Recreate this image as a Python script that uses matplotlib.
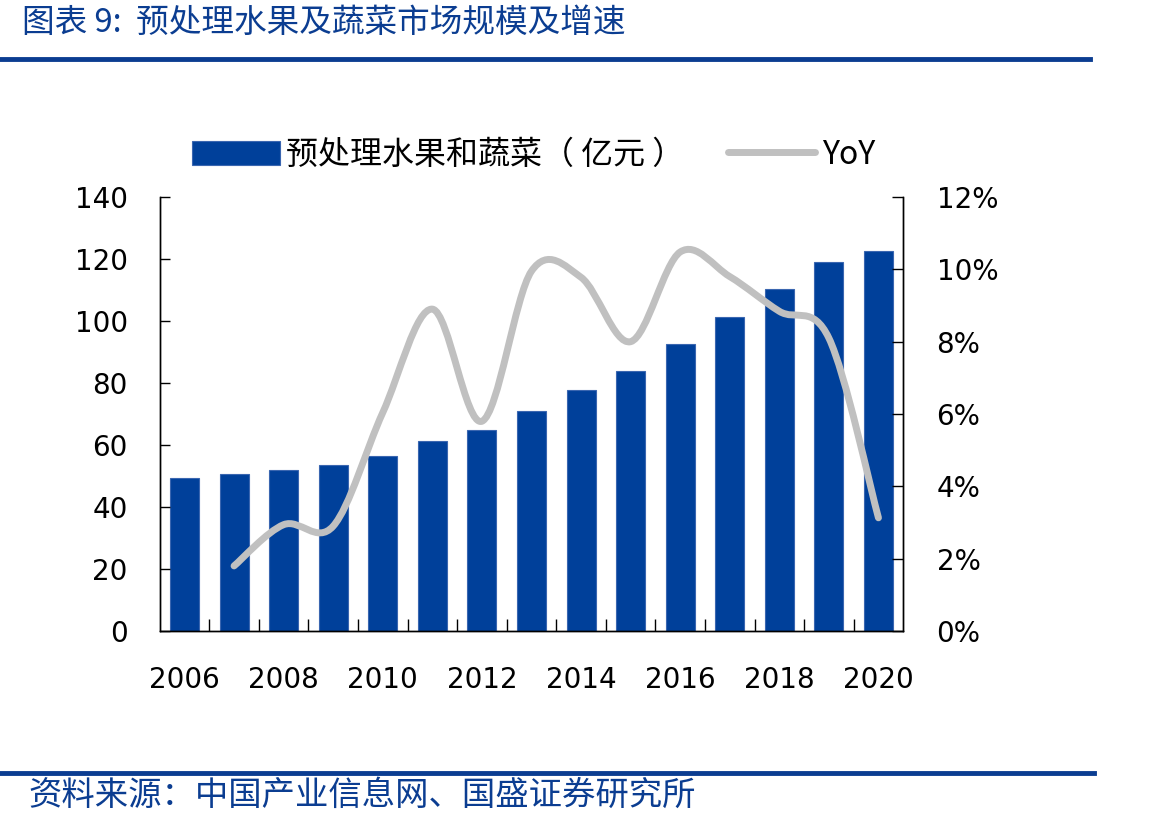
import numpy as np
import matplotlib
matplotlib.use("Agg")
import matplotlib.pyplot as plt
from matplotlib.path import Path
from matplotlib.patches import PathPatch
from matplotlib.ticker import FixedLocator, FuncFormatter

plt.rcParams['font.family'] = ['Noto Sans CJK SC', 'DejaVu Sans']

# 数据
years = [2006, 2007, 2008, 2009, 2010, 2011, 2012, 2013, 2014, 2015, 2016, 2017, 2018, 2019, 2020]
market = [49.5, 50.8, 52.0, 53.7, 56.6, 61.4, 65.0, 71.1, 77.9, 84.0, 92.5, 101.2, 110.2, 119.0, 122.5]
yoy_years = [2007, 2008, 2009, 2010, 2011, 2012, 2013, 2014, 2015, 2016, 2017, 2018, 2019, 2020]
yoy = [1.8, 2.94, 2.9, 6.04, 8.9, 5.8, 9.95, 9.78, 8.0, 10.48, 9.8, 8.84, 8.1, 3.13]
left_ticks = [0, 20, 40, 60, 80, 100, 120, 140]
right_ticks = [0, 2, 4, 6, 8, 10, 12]
label_years = [2006, 2008, 2010, 2012, 2014, 2016, 2018, 2020]

BLUE = '#00409A'
TITLE_BLUE = '#0B3D91'
GREY = '#C0C0C0'


def smooth_path(xs, ys):
    # Excel 风格平滑线 (Catmull-Rom -> Bezier)
    pts = np.column_stack([xs, ys]).astype(float)
    ext = np.vstack([pts[0], pts, pts[-1]])
    verts = [pts[0]]
    codes = [Path.MOVETO]
    for i in range(1, len(ext) - 2):
        p0, p1, p2, p3 = ext[i - 1], ext[i], ext[i + 1], ext[i + 2]
        verts += [p1 + (p2 - p0) / 6, p2 - (p3 - p1) / 6, p2]
        codes += [Path.CURVE4] * 3
    return Path(verts, codes)


fig = plt.figure(figsize=(11.7, 8.24), dpi=100)
ax = fig.add_axes([0.1365, 0.2342, 0.6355, 0.5267])
ax2 = ax.twinx()

bars = ax.bar(years, market, width=0.585, color=BLUE, edgecolor='#3A66B0',
              linewidth=0.8)
ax.set_xlim(2005.5, 2020.5)
ax.set_ylim(0, 140)
ax.set_yticks(left_ticks)
ax.xaxis.set_major_locator(FixedLocator(label_years))
ax.xaxis.set_minor_locator(FixedLocator([y - 0.5 for y in years[1:]]))
ax.tick_params(axis='x', which='major', length=0, pad=25, labelsize=20)
ax.tick_params(axis='x', which='minor', direction='in', length=8.5, width=1)
ax.tick_params(axis='y', direction='in', length=7.2, width=1, pad=23, labelsize=20)
for lab in ax.get_xticklabels() + ax.get_yticklabels():
    lab.set_family('DejaVu Sans')

ax2.set_ylim(0, 12)
ax2.set_yticks(right_ticks)
ax2.yaxis.set_major_formatter(FuncFormatter(lambda v, p: f'{v:.0f}%'))
ax2.tick_params(axis='y', direction='in', length=8, width=1, pad=24, labelsize=20)
for lab in ax2.get_yticklabels():
    lab.set_family('DejaVu Sans')

patch = PathPatch(smooth_path(yoy_years, yoy), fill=False, edgecolor=GREY,
                  linewidth=5, capstyle='round', joinstyle='round')
ax2.add_patch(patch)
yoy_handle, = ax2.plot([], [], color=GREY, linewidth=5, solid_capstyle='round')

for a in (ax, ax2):
    a.spines['top'].set_visible(False)
    for s in ('left', 'right', 'bottom'):
        a.spines[s].set_linewidth(1)
        a.spines[s].set_color('black')

leg = fig.legend([bars, yoy_handle], ['预处理水果和蔬菜（ 亿元 ）', 'YoY'],
                 loc='center', bbox_to_anchor=(0.456, 0.812), ncol=2, frameon=False,
                 fontsize=23, handlelength=2.75, handleheight=0.8,
                 handletextpad=0.2, columnspacing=1.35)
for t in leg.get_texts():
    t.set_family(['Noto Sans CJK SC', 'DejaVu Sans'])

# 标题与来源
fig.text(0.019, 0.972, '图表 9:  预处理水果及蔬菜市场规模及增速', color=TITLE_BLUE,
         fontsize=23.5, ha='left', va='center')
fig.add_artist(plt.Line2D([0, 0.932], [0.928, 0.928], color=TITLE_BLUE, linewidth=3.5))
fig.add_artist(plt.Line2D([0, 0.935], [0.062, 0.062], color=TITLE_BLUE, linewidth=3.5))
fig.text(0.024, 0.035, '资料来源：中国产业信息网、国盛证券研究所', color=TITLE_BLUE,
         fontsize=24, ha='left', va='center')

fig.savefig('out.png', dpi=100)
